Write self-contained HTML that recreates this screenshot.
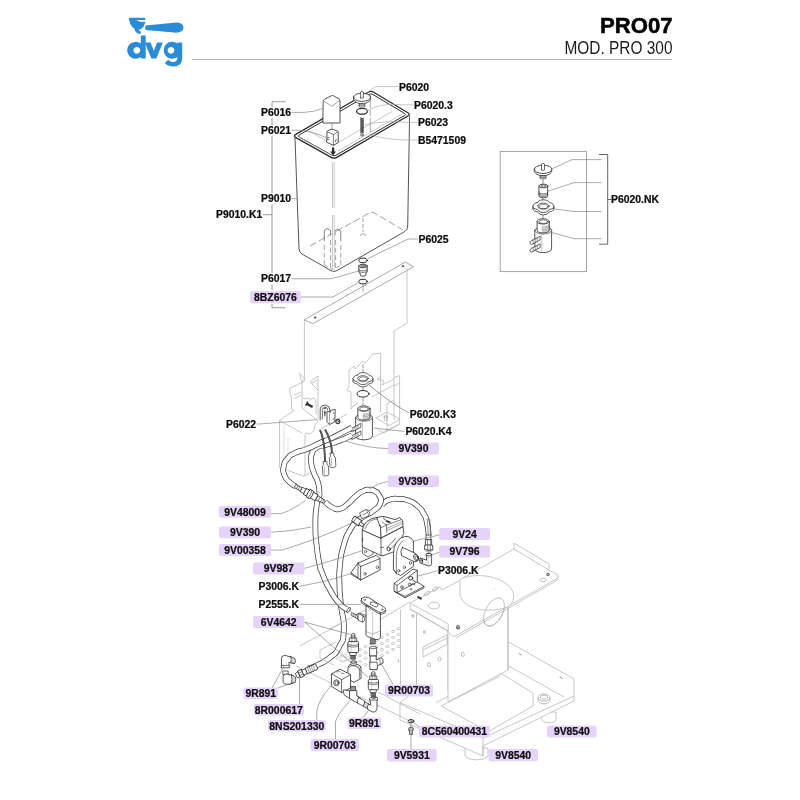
<!DOCTYPE html>
<html><head><meta charset="utf-8"><title>PRO07</title>
<style>
html,body{margin:0;padding:0;background:#fff;}
svg{display:block;font-family:"Liberation Sans",sans-serif;}
text{filter:url(#nf);}
.t{font-size:10.4px;font-weight:bold;fill:#0c0c0c;stroke:#0c0c0c;stroke-width:.22;}
.te{text-anchor:end;}
.tm{text-anchor:middle;}
.pb{fill:#e6d3f9;}
.k{fill:none;stroke:#2a2a2a;stroke-width:.8;stroke-linejoin:round;stroke-linecap:round;}
.kw{fill:#fff;stroke:#2a2a2a;stroke-width:.8;stroke-linejoin:round;stroke-linecap:round;}
.kf{fill:#2a2a2a;stroke:none;}
.g{fill:none;stroke:#b4b4b4;stroke-width:.75;stroke-linejoin:round;}
.gw{fill:#fff;stroke:#b4b4b4;stroke-width:.75;stroke-linejoin:round;}
.m{fill:none;stroke:#8a8a8a;stroke-width:.8;stroke-linejoin:round;}
.mw{fill:#fff;stroke:#8a8a8a;stroke-width:.8;stroke-linejoin:round;}
.l{fill:none;stroke:#7c7c7c;stroke-width:.65;}
.ll{fill:none;stroke:#a8a8a8;stroke-width:.65;}
.d{fill:none;stroke:#777;stroke-width:.7;stroke-dasharray:7 3;}
</style></head><body>
<svg width="800" height="800" viewBox="0 0 800 800">
<defs><filter id="nf" x="-5%" y="-20%" width="110%" height="140%" color-interpolation-filters="sRGB"><feOffset dx="0" dy="0"/></filter></defs>
<rect width="800" height="800" fill="#fff"/>
<g id="header">
<line x1="192" y1="59.5" x2="672" y2="59.5" stroke="#b5b5b5" stroke-width="1"/>
<text x="672.5" y="33.2" text-anchor="end" font-size="21.5" font-weight="bold" fill="#000" stroke="#000" stroke-width=".5" textLength="72.5" lengthAdjust="spacingAndGlyphs">PRO07</text>
<text x="672.5" y="54" text-anchor="end" font-size="17.6" fill="#1c1c1c" textLength="108" lengthAdjust="spacingAndGlyphs">MOD. PRO 300</text>
</g>
<g id="logo" fill="#2a8cd6">
<rect x="129" y="17.8" width="16.2" height="2.3" rx=".4"/>
<path d="M129.2,20 L136.2,20 Q141,23 145.3,21.6 Q144.8,28 138.6,30 Q130.6,29 129.2,20 Z"/>
<path d="M134.6,27 Q133.8,33 140.2,34.2 L141,31.6 Q138.2,31.2 138.8,28.4 Z"/>
<path d="M145.4,25.6 L174,22.7 Q183.4,22 183.4,27.6 Q183.4,33.2 174,32.6 L145.4,29.9 Z"/>
<path fill-rule="evenodd" d="M140.8,35.4 h4.9 v23.2 h-4.9 v-1.5 a8.5,8.5 0 1 1 0,-13.5 Z M136.8,46.9 a3.4,3.4 0 1 0 0.01,0 Z"/>
<path d="M144.8,42.4 h5.8 l3.2,8.6 l3.2,-8.6 h5.8 l-6.5,16.2 h-5 Z"/>
<path fill-rule="evenodd" d="M177.3,42.4 h4.9 v15.6 q0,8.5 -8.8,8.5 q-5.8,0 -8.6,-3.4 l3.4,-3.3 q2,2.2 5,2.2 q4.1,0 4.1,-4 v-1 a8.5,8.5 0 1 1 0,-13.5 Z M171,46.9 a3.4,3.4 0 1 0 0.01,0 Z"/>
</g>
<g id="ghost">
<path class="gw" d="M304.0,320.0 L405.5,262.0 L413.5,266.8 L313.0,323.6 Z" style="stroke:#8e8e8e"/>
<ellipse class="g" cx="315.2" cy="317.6" rx="0.9" ry="0.7" style="stroke:#444;fill:#666"/>
<ellipse class="g" cx="403.0" cy="266.3" rx="0.9" ry="0.7" style="stroke:#444;fill:#666"/>
<path class="g" d="M304.4,321 V381"/>
<path class="g" d="M407,268 V323 L394,331 V377.5 L399.6,375.6 V424 L384,433 L378,430"/>
<path class="g" d="M394,377.5 V386 L399.6,383"/>
<path class="g" d="M394,386 V420 M387,404 L394,400 M387,404 V430"/>
<path class="g" d="M376,418 L387,412 L399.6,419 M376,418 L389,425.6 L399.6,419.6"/>
<path class="m" d="M384.2,416.4 v3.2 a1.5,.8 0 0 0 3,0 v-3.2 a1.5,.8 0 0 0 -3,0 a1.5,.8 0 0 0 3,0" style="stroke-width:.6"/>
<path class="g" d="M351,409 V392 L346.5,390 L349,387 V370 L354,366 L355,369 L363,361 L365,363.4 L373,354 L380.6,353 V377 L377,379 L384,381 L382,385 L394,379"/>
<path class="g" d="M351,409 L353,406 L358,403"/>
<path class="g" d="M380.6,377 V412"/>
<path class="g" d="M372,397 L394,385"/>
<path class="g" d="M373,437.6 L399.6,424"/>
<path class="g" d="M304.3,381 L301,380 L299.5,373.5 L301.5,375 L304.3,379"/>
<path class="g" d="M304.3,381.5 L290,388 L289.5,391 L291.5,398 V409 L294,410.6 L279.5,420.5 V467.5 L303.8,476.2 L311,472.6"/>
<path class="g" d="M302,381 V408 L316,419 M294,395 L301.5,392 M294.5,398.4 L301.5,395"/>
<path class="g" d="M310,382 L318,376 V390 Z M311.5,383.5 L317,380"/>
<path class="g" d="M303,398 L305,399 L308,398 L310,399.5 L314,398 L315.5,399.5 L316,404 V414"/>
<path class="g" d="M318,390 V419"/>
<path class="g" d="M279.5,420.5 L302,433 M317,419 L318,421 L315,425 L314,431 L310,434 L306,433 L305,435 V476"/>
<path class="g" d="M284,425 V462 M288,438 V460" style="stroke:#d4d4d4"/>
<path class="g" d="M319,430 L347,414"/>
</g>
<g id="tank">
<path class="kw" d="M295,138 L299,249 Q299.3,252.5 302,254 L331,270.6 Q334,272.4 337,270.6 L405,231.4 Q407.6,229.6 407.7,226 L409.6,116 L371,92 Z"/>
<path class="d" d="M310,246 L370,212.6 Q372,211.6 374,212.8 L403,230"/>
<path class="m" d="M324.3,241 V230.4 L327,228.6 L330.5,230.4 V235.4" style="stroke:#666"/>
<path class="m" d="M335,235.4 V230.6 L337.6,229 L340.8,231 V241" style="stroke:#666"/>
<path class="m" d="M324.3,245 V265 M330.5,240 V268 M335.6,240 V268 M340.8,245 V265" style="stroke-dasharray:5 2.6"/>
<path class="m" d="M324.3,265 L333.4,270 L340.8,265" style="stroke-dasharray:4 3"/>
<path class="m" d="M333.3,162 V208 M333.3,215 V270.4" style="stroke:#b4b4b4;stroke-width:2.4"/>
<path class="m" d="M333.3,161 V271" style="stroke:#fff;stroke-width:1"/>
<path class="m" d="M363,218 L363,232" style="stroke-dasharray:4 2"/>
<path class="m" d="M360.6,236 A2.6,1.6 0 1 1 365.6,236"/>
<path class="kw" d="M295.8,137.6 Q293.0,136.0 295.8,134.4 L368.2,92.2 Q371.0,90.6 373.7,92.2 L407.9,112.8 Q410.6,114.4 407.8,116.0 L336.8,157.4 Q334.0,159.0 331.2,157.4 Z" style="stroke-width:1.25"/>
<path class="k" d="M299.3,137.1 Q297.4,136.0 299.3,134.9 L369.1,94.5 Q371.0,93.4 372.9,94.5 L404.5,113.3 Q406.4,114.4 404.5,115.5 L335.9,155.3 Q334.0,156.4 332.1,155.3 Z" style="stroke-width:1"/>
<path class="ll" d="M300,137.5 L333,156 M338,151 L404,113"/>
<path class="ll" d="M309,131 L334,145 L392,111.5"/>
<path class="ll" d="M370.3,94 L370.3,136" style="stroke-dasharray:14 2 6 2;stroke-width:1"/>
<path class="kw" d="M323.2,101.2 Q323.2,100 324.4,99.4 L331,95.9 Q332.4,95.2 333.8,95.9 L339,99 Q340,99.6 340,101 L340,123 L323.2,123 Z"/>
<path class="k" d="M323.6,100.8 L331.8,106.2 L339.8,100.4" style="stroke-width:.6;stroke:#666"/>
<path class="l" d="M332.0,123.0 L332.0,129.5"/>
<path class="kw" d="M327,132 Q327,131 328,130.6 L331,129.4 Q332,129 333,129.4 L337.4,131 Q338.2,131.4 338.2,132.4 L338.2,142.6 L333.4,145.4 L327,142.4 Z"/>
<path class="k" d="M327.2,131.8 L333.4,134.6 L338,131.8 M333.4,134.6 V145.4" style="stroke-width:.6"/>
<path class="k" d="M327.4,137.5 h1.6 M327.4,139.5 h1.6 M335.4,141.8 v-1.8 h1.4" style="stroke-width:.6"/>
<path class="kf" d="M332,147.6 h2.2 v3.8 h1.8 l-2.9,4 l-2.9,-4 h1.8 Z"/>
<path class="kw" d="M359.2,101 L359.2,107 L364.8,107 L364.8,101 Z" style="stroke-width:.6"/>
<path class="k" d="M359.2,104.4 h5.6 M359.2,105.6 h5.6" style="stroke-width:.5"/>
<path class="kw" d="M353.6,97.2 L353.6,99.6 Q354.4,102 358.6,103.4 L365.4,103.4 Q369.6,102 370.4,99.6 L370.4,97.2 Z"/>
<path class="kw" d="M353.6,97.2 Q354,93.6 362,93.2 Q370,93.6 370.4,97.2 Q370,101 362,101.4 Q354,101 353.6,97.2 Z"/>
<path class="kw" d="M360.6,97.8 L360.6,92 Q362,90.2 363.4,92 L363.4,97.8 Q362,98.8 360.6,97.8 Z" style="stroke-width:.7"/>
<ellipse class="k" cx="362.0" cy="111.3" rx="5.4" ry="2.9" style="stroke-width:1.2"/>
<path class="k" d="M360.8,118 L363.3,118.75 L360.8,119.50 L363.3,120.25 L360.8,121.00 L363.3,121.75 L360.8,122.50 L363.3,123.25 L360.8,124.00 L363.3,124.75 L360.8,125.50 L363.3,126.25 L360.8,127.00 L363.3,127.75 L360.8,128.50 L363.3,129.25 L360.8,130.00 L363.3,130.75 L360.8,131.50 L363.3,132.25 L360.8,133.00" style="stroke-width:.7;stroke:#222"/>
<path class="k" d="M360.8,118 V132.4 M363.3,118 V132.4" style="stroke-width:.6"/>
<ellipse class="k" cx="362.0" cy="135.0" rx="1.3" ry="1.2" style="stroke-width:.7"/>
<ellipse class="k" cx="363.0" cy="260.4" rx="4.2" ry="2.3" style="stroke-width:1"/>
<path class="kw" d="M358.8,266 L358.8,271.6 Q358.8,272.6 360.2,273 L360.2,275 A2.8,1.2 0 0 0 365.8,275 L365.8,273 Q367.2,272.6 367.2,271.6 L367.2,266 Z"/>
<ellipse class="kw" cx="363.0" cy="266.0" rx="4.2" ry="1.8"/>
<ellipse class="k" cx="363.0" cy="266.0" rx="2.4" ry="1.0"/>
<path class="k" d="M358.8,269 A4.2,1.8 0 0 0 367.2,269 M358.8,270.6 A4.2,1.8 0 0 0 367.2,270.6" style="stroke-width:.6"/>
<ellipse class="k" cx="363.0" cy="281.6" rx="4.2" ry="2.3" style="stroke-width:1"/>
<path class="l" d="M363.0,284.0 L363.0,292.0"/>
</g>
<g id="inset">
<rect x="500.2" y="151.4" width="86.3" height="120.2" fill="none" stroke="#9a9a9a" stroke-width=".9"/>
<path class="k" d="M599.4,154.5 H607.7 V244.2 H599.4 M607.7,199.5 H611" style="stroke:#555;stroke-width:.9"/>
<path class="k" d="M543,177 V186 M543,196 V201 M543,214 V221" style="stroke-width:.6;stroke:#444"/>
<g transform="translate(543.2,221.4)"><path class="kw" d="M-8.4,9 V27.6 A8.4,3.6 0 0 0 8.4,27.6 V9 A8.4,3.6 0 0 0 -8.4,9 Z"/><path class="kw" d="M-8.4,9 A8.4,3.6 0 0 1 8.4,9 A8.4,3.6 0 0 1 -8.4,9 Z" style="stroke-width:.6"/><path class="kw" d="M-6.1,0 V9 A6.1,2.6 0 0 0 6.1,9 V0 Z"/><path class="k" d="M-1,5.4 A6.1,2.6 0 0 0 6.1,3.0" style="stroke-width:.5;stroke:#555"/><path class="k" d="M-1,6.8 A6.1,2.6 0 0 0 6.1,4.4" style="stroke-width:.5;stroke:#555"/><path class="k" d="M-1,8.2 A6.1,2.6 0 0 0 6.1,5.8" style="stroke-width:.5;stroke:#555"/><path class="k" d="M-1,9.6 A6.1,2.6 0 0 0 6.1,7.2" style="stroke-width:.5;stroke:#555"/><path class="k" d="M-1,11.0 A6.1,2.6 0 0 0 6.1,8.6" style="stroke-width:.5;stroke:#555"/><ellipse class="kw" cx="0.0" cy="0.0" rx="6.1" ry="2.7"/><ellipse class="k" cx="0.0" cy="0.3" rx="4.3" ry="1.8" style="stroke-width:.6"/><path class="k" d="M-1.5,11.6 V29.8" style="stroke:#888;stroke-width:.5"/><path transform="translate(0,0.0)" class="kw" d="M-3.4,15 L-12.4,19.6 A1.4,1.9 0 0 0 -11.6,23.2 L-3.4,18.8 Z" style="stroke-width:.7"/><path transform="translate(0,0.0)" class="k" d="M-6,16.6 v3.3 M-8,17.7 v3.3 M-10,18.8 v3.3" style="stroke-width:.5"/><path transform="translate(0,7.6)" class="kw" d="M-3.4,15 L-12.4,19.6 A1.4,1.9 0 0 0 -11.6,23.2 L-3.4,18.8 Z" style="stroke-width:.7"/><path transform="translate(0,7.6)" class="k" d="M-6,16.6 v3.3 M-8,17.7 v3.3 M-10,18.8 v3.3" style="stroke-width:.5"/></g>
<g transform="translate(543.4,207.2) scale(1.00)"><g transform="translate(0,2.4)"><path class="kw" d="M-6,-4.8 Q-8,-4.4 -9.6,-3 Q-11.2,-1 -10,0.6 Q-8.6,2 -5.8,2.2 Q-5,3.8 -3,4.8 Q0,5.8 3,4.8 Q5,3.8 5.8,2.2 Q8.6,2 10,0.6 Q11.2,-1 9.6,-3 Q8,-4.4 6,-4.8 Q5,-6.4 3,-7 Q0,-7.8 -3,-7 Q-5,-6.4 -6,-4.8 Z" style="stroke:#333"/></g><path class="kw" d="M-10.5,-1 V1.4 M10.5,-1 V1.4" style="stroke:#333"/><path class="kw" d="M-6,-4.8 Q-8,-4.4 -9.6,-3 Q-11.2,-1 -10,0.6 Q-8.6,2 -5.8,2.2 Q-5,3.8 -3,4.8 Q0,5.8 3,4.8 Q5,3.8 5.8,2.2 Q8.6,2 10,0.6 Q11.2,-1 9.6,-3 Q8,-4.4 6,-4.8 Q5,-6.4 3,-7 Q0,-7.8 -3,-7 Q-5,-6.4 -6,-4.8 Z" style="stroke:#333"/><ellipse class="k" cx="0.0" cy="-1.2" rx="5.6" ry="2.9" style="stroke:#333"/><ellipse class="k" cx="0.0" cy="-0.7" rx="4.3" ry="2.1" style="stroke:#444;stroke-width:.6"/><path class="k" d="M-5,0.8 A5.4,2.6 0 0 0 5,0.8" style="stroke:#777;stroke-width:.5"/></g>
<g transform="translate(543.3,186.0)"><path class="kw" d="M-4.4,0 V10 A4.4,1.8 0 0 0 4.4,10 V0 Z"/><ellipse class="kw" cx="0.0" cy="0.0" rx="4.4" ry="1.8"/><ellipse class="k" cx="0.0" cy="0.0" rx="2.6" ry="1.0" style="stroke-width:.6"/><path class="k" d="M-4.4,6.0 A4.4,1.8 0 0 0 4.4,6.0" style="stroke-width:.6"/><path class="k" d="M-4.4,7.3 A4.4,1.8 0 0 0 4.4,7.3" style="stroke-width:.6"/><path class="k" d="M-4.4,8.6 A4.4,1.8 0 0 0 4.4,8.6" style="stroke-width:.6"/></g>
<g transform="translate(543.0,169.3) scale(1.00)"><path class="kw" d="M-2.9,4.6 L-2.9,9.4 L2.9,9.4 L2.9,4.6 Z" style="stroke-width:.6"/><path class="k" d="M-2.9,7 h5.8 M-2.9,8.2 h5.8" style="stroke-width:.5"/><path class="kw" d="M-8.7,0 L-8.7,2.2 Q-8,4.6 -3.6,6.2 L3.6,6.2 Q8,4.6 8.7,2.2 L8.7,0 Z"/><path class="kw" d="M-8.7,0 Q-8.3,-3.7 0,-4.1 Q8.3,-3.7 8.7,0 Q8.3,3.8 0,4.2 Q-8.3,3.8 -8.7,0 Z"/><path class="kw" d="M-1.5,0.6 L-1.5,-5.2 Q0,-6.8 1.5,-5.2 L1.5,0.6 Q0,1.6 -1.5,0.6 Z" style="stroke-width:.7"/></g>
<path class="l" d="M552,168.8 L572,159.6 H601.5"/>
<path class="l" d="M547.8,191.3 L574,182.6 H601.5"/>
<path class="l" d="M554.6,209 L574.6,211.5 H601.5"/>
<path class="l" d="M551.6,232.5 L574.6,238.7 H601.5"/>
</g>
<g id="mid">
<path class="k" d="M363,364.6 V371.6 M363,386.5 V390 M363,398 V405.6" style="stroke-width:.6;stroke:#555;stroke-dasharray:3 1.5"/>
<g transform="translate(364.0,408.6)"><path class="kw" d="M-8.4,9 V27.6 A8.4,3.6 0 0 0 8.4,27.6 V9 A8.4,3.6 0 0 0 -8.4,9 Z"/><path class="kw" d="M-8.4,9 A8.4,3.6 0 0 1 8.4,9 A8.4,3.6 0 0 1 -8.4,9 Z" style="stroke-width:.6"/><path class="kw" d="M-6.1,0 V9 A6.1,2.6 0 0 0 6.1,9 V0 Z"/><path class="k" d="M-1,5.4 A6.1,2.6 0 0 0 6.1,3.0" style="stroke-width:.5;stroke:#555"/><path class="k" d="M-1,6.8 A6.1,2.6 0 0 0 6.1,4.4" style="stroke-width:.5;stroke:#555"/><path class="k" d="M-1,8.2 A6.1,2.6 0 0 0 6.1,5.8" style="stroke-width:.5;stroke:#555"/><path class="k" d="M-1,9.6 A6.1,2.6 0 0 0 6.1,7.2" style="stroke-width:.5;stroke:#555"/><path class="k" d="M-1,11.0 A6.1,2.6 0 0 0 6.1,8.6" style="stroke-width:.5;stroke:#555"/><ellipse class="kw" cx="0.0" cy="0.0" rx="6.1" ry="2.7"/><ellipse class="k" cx="0.0" cy="0.3" rx="4.3" ry="1.8" style="stroke-width:.6"/><path class="k" d="M-1.5,11.6 V29.8" style="stroke:#888;stroke-width:.5"/><path transform="translate(0,0.0)" class="kw" d="M-3.4,15 L-12.4,19.6 A1.4,1.9 0 0 0 -11.6,23.2 L-3.4,18.8 Z" style="stroke-width:.7"/><path transform="translate(0,0.0)" class="k" d="M-6,16.6 v3.3 M-8,17.7 v3.3 M-10,18.8 v3.3" style="stroke-width:.5"/><path transform="translate(0,7.6)" class="kw" d="M-3.4,15 L-12.4,19.6 A1.4,1.9 0 0 0 -11.6,23.2 L-3.4,18.8 Z" style="stroke-width:.7"/><path transform="translate(0,7.6)" class="k" d="M-6,16.6 v3.3 M-8,17.7 v3.3 M-10,18.8 v3.3" style="stroke-width:.5"/></g>
<ellipse class="k" cx="363.0" cy="393.8" rx="6.0" ry="3.3" style="stroke-width:1"/>
<g transform="translate(363.0,379.6) scale(0.95)"><g transform="translate(0,2.4)"><path class="kw" d="M-6,-4.8 Q-8,-4.4 -9.6,-3 Q-11.2,-1 -10,0.6 Q-8.6,2 -5.8,2.2 Q-5,3.8 -3,4.8 Q0,5.8 3,4.8 Q5,3.8 5.8,2.2 Q8.6,2 10,0.6 Q11.2,-1 9.6,-3 Q8,-4.4 6,-4.8 Q5,-6.4 3,-7 Q0,-7.8 -3,-7 Q-5,-6.4 -6,-4.8 Z" style="stroke:#333"/></g><path class="kw" d="M-10.5,-1 V1.4 M10.5,-1 V1.4" style="stroke:#333"/><path class="kw" d="M-6,-4.8 Q-8,-4.4 -9.6,-3 Q-11.2,-1 -10,0.6 Q-8.6,2 -5.8,2.2 Q-5,3.8 -3,4.8 Q0,5.8 3,4.8 Q5,3.8 5.8,2.2 Q8.6,2 10,0.6 Q11.2,-1 9.6,-3 Q8,-4.4 6,-4.8 Q5,-6.4 3,-7 Q0,-7.8 -3,-7 Q-5,-6.4 -6,-4.8 Z" style="stroke:#333"/><ellipse class="k" cx="0.0" cy="-1.2" rx="5.6" ry="2.9" style="stroke:#333"/><ellipse class="k" cx="0.0" cy="-0.7" rx="4.3" ry="2.1" style="stroke:#444;stroke-width:.6"/><path class="k" d="M-5,0.8 A5.4,2.6 0 0 0 5,0.8" style="stroke:#777;stroke-width:.5"/></g>
<path class="k" d="M306.6,403.6 L312.6,407" style="stroke-width:2.4;stroke:#333;stroke-linecap:butt"/>
<path class="k" d="M306,405 L307.6,402.2" style="stroke-width:1.6;stroke:#333"/>
<path class="mw" d="M320.2,420.4 V409 Q320.4,405.2 324.4,405.2 L326.6,405.4 Q329.8,406 329.8,410 V414" style="stroke:#444;stroke-width:.9"/>
<path class="m" d="M322.4,419.4 V409.6 Q322.8,407 325.2,407 Q327.6,407.2 327.6,410" style="stroke:#444;stroke-width:.8"/>
<path class="m" d="M324.8,410.4 V416.4 M324.4,412.8 h1.8 M323.6,408.6 l2.6,-.6" style="stroke:#333;stroke-width:1"/>
<path class="mw" d="M327,411 L327,421.6 L329.6,424.6 L334.8,421.6 L335.2,409.2 L330.8,410.4 L330.6,412.4 Z" style="stroke:#444;stroke-width:.9"/>
<path class="m" d="M329.6,424.6 V413 M333.6,412 v2 M333.4,418 v2" style="stroke:#666;stroke-width:.6"/>
<ellipse class="k" cx="337.8" cy="421.6" rx="2.0" ry="2.2" style="stroke-width:1.1;stroke:#333"/>
<ellipse class="k" cx="337.8" cy="421.6" rx="0.7" ry="0.8" style="stroke-width:.5;stroke:#333"/>
</g>
<g id="frame">
<path class="gw" d="M465,748 v7.4 a11.5,4.4 0 0 0 23,0 v-7.4 Z"/>
<path class="gw" d="M542,712 v7.6 a7,3.2 0 0 0 14,0 v-7.6 Z"/>
<path class="gw" d="M507,641 L574,679 V701 L483,746 V756 L400,720 V702.6 L416.5,690 V614 L507,665 Z"/>
<path class="g" d="M507,665 L564,697 M574,696 L483,738 L400,702.6 M483,738 V756"/>
<path class="g" d="M507,641 V665"/>
<path class="g" d="M497,671 L507,665 M497,671 L533,693 V706 L486,733 M496,672 L436,702.6 M500,676 L441,706 L480,727"/>
<path class="g" d="M518.6,653.4 l3,1.7 M559.6,677 l3,1.7" style="stroke:#999;stroke-width:1"/>
<path class="gw" d="M538,697.6 v2.6 a6,3.6 0 0 0 12,0 v-2.6 Z" style="stroke:#aaa"/>
<ellipse class="gw" cx="544.0" cy="697.6" rx="6.0" ry="3.6" style="stroke:#aaa"/>
<ellipse class="g" cx="544.0" cy="697.2" rx="3.6" ry="2.1" style="stroke:#aaa"/>
<path class="gw" d="M410,609 L448,631 V690 L416.5,690 V613 Z" style="stroke:none"/>
<path class="g" d="M410,609 L448,631 V690"/>
<path class="gw" d="M448,631 L455,636 L508,606 V670 L448,702 Z"/>
<path class="g" d="M416.5,612.6 V690"/>
<ellipse class="g" cx="413.0" cy="616.0" rx="1.0" ry="1.4" style="stroke:#999"/>
<ellipse class="g" cx="424.5" cy="632.0" rx="0.9" ry="1.3" style="stroke:#999"/>
<path class="g" d="M423.0,647.0 L447.0,635.0 L447.0,644.6 L423.0,657.0 Z"/>
<path class="g" d="M423,650 L447,638"/>
<ellipse class="g" cx="429.0" cy="664.6" rx="1.5" ry="2.2" style="stroke:#aaa"/>
<ellipse class="g" cx="439.6" cy="659.0" rx="1.5" ry="2.2" style="stroke:#aaa"/>
<ellipse class="g" cx="462.8" cy="654.4" rx="1.5" ry="2.2" style="stroke:#aaa"/>
<path class="g" d="M398.5,659.6 v3" style="stroke:#999"/>
<ellipse class="g" cx="494" cy="612" rx="8.6" ry="15.4" transform="rotate(28 494 612)"/>
<path class="g" d="M508,608 V670"/>
<path class="gw" d="M410,603 L440,587 L441.6,590 L460,580.4 L463,578 L514,549 V543 L549,564 V570 L558,575 V578 L455.4,636 Q451.6,637.4 448.2,631.4 V624 Z"/>
<path class="g" d="M514,549 L549,570 M410,603 V609 L448,631 M558,578 L556,581 L456,638"/>
<path class="gw" d="M460,596 C464,606 476,611 492,610 C500,609.6 506,608 509.4,605.6 C516,600 515,590 506,583.6 C496,576 478,573 462.4,578 L460,580.4 Z"/>
<ellipse class="g" cx="494" cy="612" rx="8.6" ry="15.4" transform="rotate(28 494 612)" clip-path="url(#cylclip)"/>
<path class="g" d="M494.4,589.4 l.8,-.8" style="stroke:#999"/>
<ellipse class="g" cx="434.0" cy="605.6" rx="5.6" ry="3.4"/>
<ellipse class="g" cx="543.0" cy="580.0" rx="3.0" ry="1.8"/>
<ellipse class="g" cx="548.0" cy="574.4" rx="1.5" ry="1.2" style="stroke:#444;fill:#bbb"/>
<ellipse class="g" cx="458.0" cy="628.0" rx="1.5" ry="1.2" style="stroke:#444;fill:#bbb"/>
<path class="g" d="M456.6,628 v-1.8 a1.4,.9 0 0 1 2.8,0 v1.8" style="stroke:#555"/>
<ellipse class="g" cx="427" cy="593.4" rx="3.4" ry="1.4" transform="rotate(-30 427 593.4)"/>
<ellipse class="g" cx="435.4" cy="589" rx="3.4" ry="1.4" transform="rotate(-30 435.4 589)"/>
</g>
<g id="hoses">
<path d="M357.5,520.0 C355.0,523.3 354.6,521.7 350.0,530.0 C345.4,538.3 347.1,533.3 343.8,545.0 C340.4,556.7 341.4,551.7 340.0,565.0 C338.6,578.3 339.2,571.7 339.5,585.0 C339.8,598.3 339.6,590.0 341.0,605.0 C342.4,620.0 344.5,615.8 343.8,630.0 C343.0,644.2 343.3,638.3 338.8,647.5 C334.2,656.7 337.1,651.7 330.0,657.5 C322.9,663.3 324.8,661.3 317.5,665.0 C310.2,668.7 311.2,667.4 308.0,668.6" fill="none" stroke="#3a3a3a" stroke-width="5.75" stroke-linecap="butt"/><path d="M357.5,520.0 C355.0,523.3 354.6,521.7 350.0,530.0 C345.4,538.3 347.1,533.3 343.8,545.0 C340.4,556.7 341.4,551.7 340.0,565.0 C338.6,578.3 339.2,571.7 339.5,585.0 C339.8,598.3 339.6,590.0 341.0,605.0 C342.4,620.0 344.5,615.8 343.8,630.0 C343.0,644.2 343.3,638.3 338.8,647.5 C334.2,656.7 337.1,651.7 330.0,657.5 C322.9,663.3 324.8,661.3 317.5,665.0 C310.2,668.7 311.2,667.4 308.0,668.6" fill="none" stroke="#fff" stroke-width="4.25" stroke-linecap="butt"/>
<path d="M352.0,435.3 C348.0,437.1 347.3,437.8 340.0,440.6 C332.7,443.4 335.8,442.1 330.0,443.8 C324.2,445.4 327.1,444.2 322.5,445.6 C317.9,447.0 319.8,445.3 316.2,448.0 C312.7,450.7 313.6,448.9 311.9,453.8 C310.2,458.6 310.6,456.2 311.2,462.5 C311.9,468.8 311.5,465.8 313.8,472.5 C316.0,479.2 316.1,475.8 318.0,482.5 C319.9,489.2 319.1,487.7 319.4,492.5 C319.6,497.3 319.8,492.0 318.8,497.0 C317.8,502.0 317.5,497.8 316.4,507.5 C315.3,517.2 315.3,513.5 315.4,526.0 C315.5,538.5 315.3,532.4 316.6,545.0 C317.9,557.6 317.7,554.8 319.4,563.8 C321.1,572.8 318.4,563.6 321.8,572.0 C325.2,580.4 323.7,578.5 329.6,589.0 C335.5,599.5 333.1,596.4 339.4,603.4 C345.7,610.4 345.4,607.8 348.4,610.0" fill="none" stroke="#3a3a3a" stroke-width="5.75" stroke-linecap="butt"/><path d="M352.0,435.3 C348.0,437.1 347.3,437.8 340.0,440.6 C332.7,443.4 335.8,442.1 330.0,443.8 C324.2,445.4 327.1,444.2 322.5,445.6 C317.9,447.0 319.8,445.3 316.2,448.0 C312.7,450.7 313.6,448.9 311.9,453.8 C310.2,458.6 310.6,456.2 311.2,462.5 C311.9,468.8 311.5,465.8 313.8,472.5 C316.0,479.2 316.1,475.8 318.0,482.5 C319.9,489.2 319.1,487.7 319.4,492.5 C319.6,497.3 319.8,492.0 318.8,497.0 C317.8,502.0 317.5,497.8 316.4,507.5 C315.3,517.2 315.3,513.5 315.4,526.0 C315.5,538.5 315.3,532.4 316.6,545.0 C317.9,557.6 317.7,554.8 319.4,563.8 C321.1,572.8 318.4,563.6 321.8,572.0 C325.2,580.4 323.7,578.5 329.6,589.0 C335.5,599.5 333.1,596.4 339.4,603.4 C345.7,610.4 345.4,607.8 348.4,610.0" fill="none" stroke="#fff" stroke-width="4.25" stroke-linecap="butt"/>
<ellipse class="kw" cx="348.6" cy="610.1" rx="1.2" ry="2.9" transform="rotate(35 348.6 610.1)" style="stroke-width:.7"/>
<path d="M352.0,427.6 C348.0,429.7 347.3,430.0 340.0,433.8 C332.7,437.5 336.7,435.7 330.0,438.8 C323.3,441.8 327.5,439.7 320.0,443.0 C312.5,446.3 315.8,445.4 307.5,448.8 C299.2,452.1 301.7,449.7 295.0,453.0 C288.3,456.3 291.2,454.3 287.5,458.8 C283.8,463.2 284.8,460.8 283.8,466.2 C282.7,471.7 282.3,469.6 284.4,475.0 C286.5,480.4 286.1,478.7 290.0,482.5 C293.9,486.3 294.0,485.1 296.0,486.4" fill="none" stroke="#3a3a3a" stroke-width="5.75" stroke-linecap="butt"/><path d="M352.0,427.6 C348.0,429.7 347.3,430.0 340.0,433.8 C332.7,437.5 336.7,435.7 330.0,438.8 C323.3,441.8 327.5,439.7 320.0,443.0 C312.5,446.3 315.8,445.4 307.5,448.8 C299.2,452.1 301.7,449.7 295.0,453.0 C288.3,456.3 291.2,454.3 287.5,458.8 C283.8,463.2 284.8,460.8 283.8,466.2 C282.7,471.7 282.3,469.6 284.4,475.0 C286.5,480.4 286.1,478.7 290.0,482.5 C293.9,486.3 294.0,485.1 296.0,486.4" fill="none" stroke="#fff" stroke-width="4.25" stroke-linecap="butt"/>
<path d="M382.0,505.0 C383.3,503.7 383.0,503.1 386.0,501.2 C389.0,499.3 387.0,500.2 391.0,499.4 C395.0,498.6 392.3,498.5 398.0,498.8 C403.7,499.1 401.7,498.1 408.0,500.4 C414.3,502.7 411.8,501.2 417.0,505.6 C422.2,510.0 420.3,507.8 423.6,513.6 C426.9,519.4 425.3,515.5 427.0,523.0 C428.7,530.5 428.2,531.7 428.8,536.0" fill="none" stroke="#3a3a3a" stroke-width="5.75" stroke-linecap="butt"/><path d="M382.0,505.0 C383.3,503.7 383.0,503.1 386.0,501.2 C389.0,499.3 387.0,500.2 391.0,499.4 C395.0,498.6 392.3,498.5 398.0,498.8 C403.7,499.1 401.7,498.1 408.0,500.4 C414.3,502.7 411.8,501.2 417.0,505.6 C422.2,510.0 420.3,507.8 423.6,513.6 C426.9,519.4 425.3,515.5 427.0,523.0 C428.7,530.5 428.2,531.7 428.8,536.0" fill="none" stroke="#fff" stroke-width="4.25" stroke-linecap="butt"/>
<path d="M325.0,502.0 C327.5,503.8 327.5,505.2 332.5,507.5 C337.5,509.8 335.0,509.9 340.0,508.8 C345.0,507.6 342.2,508.4 347.5,504.2 C352.8,499.9 350.6,500.4 356.0,496.0 C361.4,491.6 359.3,493.1 363.6,491.0 C367.9,488.9 365.4,489.8 369.0,489.8 C372.6,489.8 371.0,489.1 374.4,491.0 C377.8,492.9 377.2,491.6 379.2,495.6 C381.2,499.6 382.1,498.1 380.4,503.0 C378.7,507.9 379.1,506.2 374.0,510.4 C368.9,514.6 370.5,512.3 365.0,515.6 C359.5,518.9 360.0,518.8 357.5,520.4" fill="none" stroke="#3a3a3a" stroke-width="5.75" stroke-linecap="butt"/><path d="M325.0,502.0 C327.5,503.8 327.5,505.2 332.5,507.5 C337.5,509.8 335.0,509.9 340.0,508.8 C345.0,507.6 342.2,508.4 347.5,504.2 C352.8,499.9 350.6,500.4 356.0,496.0 C361.4,491.6 359.3,493.1 363.6,491.0 C367.9,488.9 365.4,489.8 369.0,489.8 C372.6,489.8 371.0,489.1 374.4,491.0 C377.8,492.9 377.2,491.6 379.2,495.6 C381.2,499.6 382.1,498.1 380.4,503.0 C378.7,507.9 379.1,506.2 374.0,510.4 C368.9,514.6 370.5,512.3 365.0,515.6 C359.5,518.9 360.0,518.8 357.5,520.4" fill="none" stroke="#fff" stroke-width="4.25" stroke-linecap="butt"/>
<path d="M320.0,430.0 C320.8,432.5 321.0,430.8 322.5,437.5 C324.0,444.2 323.6,441.8 324.4,450.0 C325.2,458.2 324.8,458.0 325.0,462.0" fill="none" stroke="#2a2a2a" stroke-width="1.90" stroke-linecap="butt"/><path d="M320.0,430.0 C320.8,432.5 321.0,430.8 322.5,437.5 C324.0,444.2 323.6,441.8 324.4,450.0 C325.2,458.2 324.8,458.0 325.0,462.0" fill="none" stroke="#fff" stroke-width="0.30" stroke-linecap="butt"/>
<path d="M325.0,429.4 C326.2,432.1 326.7,432.0 328.8,437.5 C330.8,443.0 330.2,440.6 331.2,446.0 C332.3,451.4 331.7,451.1 331.9,453.6" fill="none" stroke="#2a2a2a" stroke-width="1.90" stroke-linecap="butt"/><path d="M325.0,429.4 C326.2,432.1 326.7,432.0 328.8,437.5 C330.8,443.0 330.2,440.6 331.2,446.0 C332.3,451.4 331.7,451.1 331.9,453.6" fill="none" stroke="#fff" stroke-width="0.30" stroke-linecap="butt"/>
<g transform="translate(325.0,461.6) rotate(-4)"><path class="kw" d="M-1.8,0 h3.6 v3.2 l1.2,1 v8.4 q0,1.2 -1.2,1.4 l-3,.4 q-1.8,0 -1.8,-1.6 v-8.6 l1.2,-1 Z" style="stroke-width:.7;stroke:#333"/><path class="k" d="M-1.2,5 v7.6" style="stroke-width:.5;stroke:#777"/></g>
<g transform="translate(332.0,453.2) rotate(-4)"><path class="kw" d="M-1.8,0 h3.6 v3.2 l1.2,1 v8.4 q0,1.2 -1.2,1.4 l-3,.4 q-1.8,0 -1.8,-1.6 v-8.6 l1.2,-1 Z" style="stroke-width:.7;stroke:#333"/><path class="k" d="M-1.2,5 v7.6" style="stroke-width:.5;stroke:#777"/></g>
<g transform="translate(295.4,486.2) rotate(28.6)"><path class="kw" d="M0,-1.7 L7,-1.9 L7,1.9 L0,1.7 Z" style="stroke-width:.7"/><path class="k" d="M2,-1.7 v3.4 M4,-1.8 v3.6" style="stroke-width:.5"/><path class="kw" d="M7,-2.5 H11 V2.5 H7 Z" style="stroke-width:.7"/><path class="kw" d="M11,-3.3 H24 Q25,0 24,3.3 H11 Q10,0 11,-3.3 Z" style="stroke-width:.8"/><path class="kw" d="M14.6,-4.3 H18.6 Q19.8,0 18.6,4.3 H14.6 Q13.4,0 14.6,-4.3 Z" style="stroke-width:.8"/><path class="k" d="M16.6,-4.3 Q17.8,0 16.6,4.3" style="stroke-width:.6"/><path class="kw" d="M24.6,-2.3 L29,-2 L33.4,-1.5 L33.4,1.5 L29,2 L24.6,2.3 Z" style="stroke-width:.7"/><path class="k" d="M27,-2.1 v4.2 M29.6,-1.9 v3.8 M31.6,-1.7 v3.4" style="stroke-width:.5"/></g>
<g transform="translate(356.8,521.0) rotate(35) scale(1.15)"><path class="kw" d="M-3.6,-2.6 Q-4.6,0 -3.6,2.6 L3.6,2.6 Q4.6,0 3.6,-2.6 Z" style="stroke-width:.8"/><path class="k" d="M-1.6,-2.6 Q-2.6,0 -1.6,2.6" style="stroke-width:.5"/><path class="kw" d="M3.4,-1.2 h3.4 v2.6 h-3.4 Z" style="stroke-width:.7"/></g>
</g>
<g id="pump">
<path class="kw" d="M351,572.6 L358,563 L376.4,555.2 L380,558.6 V570 L360.6,580 L351.6,574.6 Z"/>
<path class="k" d="M358,563 V577.6 L360.6,580 M358,577.6 L351.4,573 M360.6,566.4 L380,558.6 M360.6,566.4 V580 M358,563 L360.6,566.4" style="stroke-width:.7"/>
<ellipse class="k" cx="377.4" cy="567.4" rx="1.2" ry="1.4" style="stroke-width:.6"/>
<ellipse class="k" cx="365.0" cy="573.8" rx="1.2" ry="1.4" style="stroke-width:.6"/>
<path class="kw" d="M394.4,583.4 L413,569 L417.3,570.4 V582 L424,586.4 V587.8 L405,597.8 L394.4,591.4 Z"/>
<path class="k" d="M394.4,583.4 L397,585.4 L417.3,570.4 M397,585.4 V592.6 M397,592.6 L417.3,582 M397,592.6 L405,596.4 L424,586.4 M394.4,591.4 L397,592.6" style="stroke-width:.7"/>
<ellipse class="k" cx="410.8" cy="578.3" rx="2.0" ry="1.8" style="stroke-width:1;stroke:#333"/>
<ellipse class="k" cx="409.8" cy="584.4" rx="1.5" ry="1.3" style="stroke-width:.8;stroke:#333"/>
<ellipse class="k" cx="401.9" cy="587.2" rx="1.2" ry="1.5" style="stroke-width:.8;stroke:#333"/>
<ellipse class="k" cx="410.8" cy="589.2" rx="1.0" ry="0.7" style="stroke-width:.5"/>
<path class="k" d="M413,580.4 l2.4,1.4 M412.6,583.6 l2,1.2" style="stroke-width:.9;stroke:#333"/>
<path class="k" d="M417.4,596.6 L421.6,599" style="stroke-width:2.2;stroke:#444;stroke-linecap:butt"/>
<path class="kw" d="M362.6,546 V553.6 L368,557 L373,554 V549 Z" style="stroke-width:.7"/>
<ellipse class="k" cx="365.6" cy="551.6" rx="1.1" ry="1.3" style="stroke-width:.6"/>
<path class="kw" d="M362.6,529.6 L381,538 L403,526.6 L403.8,533.4 L394.4,551.6 L382,556 L362.6,547 Z"/>
<path class="k" d="M381,538 V555.6 M381,547.4 h2.4 M362.6,538 v3" style="stroke-width:.7"/>
<path class="kw" d="M362.4,529.8 Q363,525 367,521.4 Q371.6,517.6 377,517.4 L381,519 L381,538 Z" style="stroke-width:.8"/>
<path class="k" d="M365.4,528.4 Q366.6,523.6 371,520.6 Q374.6,518.6 378,519" style="stroke-width:.6"/>
<path class="kw" d="M377,517.4 L383.6,516.4 L395,519.6 L399.6,517.6 L402.6,520.4 L403,526.6 L381,538 L380.6,528 Z" style="stroke-width:.8"/>
<path class="k" d="M380.6,528 L386.4,525 L386.8,532.4 M386.4,525 L401.6,519.6 M386.4,525 L382,522 M383.6,516.4 L384,519.4 L391,522.4" style="stroke-width:.6"/>
<path class="kf" d="M385.4,521.6 l3.4,1.4 l2,-1 l-3.4,-1.4 Z"/>
<path class="kf" d="M378.6,525.8 l1.8,.8 l1.2,-.7 l-1.8,-.8 Z"/>
<path class="k" d="M386.8,528.4 L403,521.4 M386.8,530.4 L403,523.4 M382.6,537 L403,526.6" style="stroke-width:.5;stroke:#555"/>
<path class="k" d="M386.6,548 L395.6,538.4 M389,551 L399,540" style="stroke-width:.6"/>
<ellipse class="k" cx="388.6" cy="549.0" rx="1.6" ry="1.8" style="stroke-width:.8"/>
<path class="kw" d="M393.6,552 Q394,542.6 401,538 Q409,533.6 413.4,541 V566.4 L400.6,575.4 L396.4,573.4 L393.6,569.6 Z"/>
<path class="k" d="M396.4,573.4 V555 Q396.8,546 403,540.6 M396.4,573.4 L393.6,569.6" style="stroke-width:.6"/>
<ellipse class="k" cx="398.8" cy="570.8" rx="1.1" ry="1.4" style="stroke-width:.6"/>
<ellipse class="k" cx="404.4" cy="567.4" rx="1.1" ry="1.4" style="stroke-width:.6"/>
<ellipse class="k" cx="410.4" cy="563.0" rx="1.1" ry="1.4" style="stroke-width:.6"/>
<path class="kw" d="M402.4,547.4 L415.6,553.4 Q419.4,556.6 418,560 Q416.6,562.4 414,561.6 L401.6,555.6 Q399.8,551.4 402.4,547.4 Z" style="stroke-width:.8"/>
<ellipse class="k" cx="416.2" cy="557.6" rx="2.2" ry="3.6" transform="rotate(-25 416.2 557.6)" style="stroke-width:.8"/>
<ellipse class="k" cx="416.4" cy="557.8" rx="1.1" ry="2" transform="rotate(-25 416.4 557.8)" style="stroke-width:.5"/>
<path class="kw" d="M360,512.6 L366.6,509.4 L369.6,512 L368.6,516 L362,518.6 Z" style="stroke-width:.7"/>
<path class="k" d="M362.6,515 l5,-2.4 M366.6,509.4 l1,3.4" style="stroke-width:.5"/>
<path class="kw" d="M426.4,535 H430.8 V540 H426.4 Z" style="stroke-width:.7"/>
<path class="k" d="M427.2,519 Q428,527 428.2,535 M429.8,519 Q430.4,527 430.4,535" style="stroke-width:.6;stroke:#444"/>
<path class="kw" d="M425.8,539.6 H431.6 V545.4 H425.8 Z" style="stroke-width:.8"/>
<path class="kw" d="M425.2,545 H432.4 L433,549.6 Q429,551.8 424.8,549.6 Z" style="stroke-width:.8"/>
<path class="k" d="M427.6,539.6 V549.8 M430.4,539.6 V550" style="stroke-width:.5"/>
<ellipse class="k" cx="428.9" cy="550.4" rx="3.4" ry="1.4" style="stroke-width:.6;stroke:#777"/>
<path class="kw" d="M426.2,554.6 Q426.2,553 428.9,553 Q431.6,553 431.6,554.6 V563.6 Q431.6,566.2 428.6,566 L421.4,563.4 Q419.4,561 420.4,558 L426.2,560 Z" style="stroke-width:.8"/>
<ellipse class="k" cx="428.9" cy="554.6" rx="2.7" ry="1.2" style="stroke-width:.6"/>
<path class="k" d="M426.2,556.4 Q428.9,558 431.6,556.4 M428,554 V566" style="stroke-width:.4;stroke:#777"/>
<ellipse class="kw" cx="421" cy="560.8" rx="1.6" ry="2.8" transform="rotate(-20 421 560.8)" style="stroke-width:.7"/>
<ellipse class="k" cx="421.2" cy="560.8" rx=".8" ry="1.6" transform="rotate(-20 421.2 560.8)" style="stroke-width:.5"/>
</g>
<g id="valves">
<ellipse cx="398.5" cy="628.5" rx="1.6" ry="1" fill="none" stroke="#b0b0b0" stroke-width=".7"/>
<ellipse cx="398.5" cy="634.5" rx="1.6" ry="1" fill="none" stroke="#b0b0b0" stroke-width=".7"/>
<ellipse cx="398.5" cy="640.5" rx="1.6" ry="1" fill="none" stroke="#b0b0b0" stroke-width=".7"/>
<ellipse cx="398.5" cy="646.5" rx="1.6" ry="1" fill="none" stroke="#b0b0b0" stroke-width=".7"/>
<ellipse cx="393.0" cy="631.5" rx="1.6" ry="1" fill="none" stroke="#b0b0b0" stroke-width=".7"/>
<ellipse cx="393.0" cy="637.5" rx="1.6" ry="1" fill="none" stroke="#b0b0b0" stroke-width=".7"/>
<ellipse cx="393.0" cy="643.5" rx="1.6" ry="1" fill="none" stroke="#b0b0b0" stroke-width=".7"/>
<ellipse cx="393.0" cy="649.5" rx="1.6" ry="1" fill="none" stroke="#b0b0b0" stroke-width=".7"/>
<ellipse cx="387.5" cy="634.5" rx="1.6" ry="1" fill="none" stroke="#b0b0b0" stroke-width=".7"/>
<ellipse cx="387.5" cy="640.5" rx="1.6" ry="1" fill="none" stroke="#b0b0b0" stroke-width=".7"/>
<ellipse cx="387.5" cy="646.5" rx="1.6" ry="1" fill="none" stroke="#b0b0b0" stroke-width=".7"/>
<ellipse cx="387.5" cy="652.5" rx="1.6" ry="1" fill="none" stroke="#b0b0b0" stroke-width=".7"/>
<ellipse cx="382.0" cy="637.5" rx="1.6" ry="1" fill="none" stroke="#b0b0b0" stroke-width=".7"/>
<ellipse cx="382.0" cy="643.5" rx="1.6" ry="1" fill="none" stroke="#b0b0b0" stroke-width=".7"/>
<ellipse cx="382.0" cy="649.5" rx="1.6" ry="1" fill="none" stroke="#b0b0b0" stroke-width=".7"/>
<ellipse cx="382.0" cy="655.5" rx="1.6" ry="1" fill="none" stroke="#b0b0b0" stroke-width=".7"/>
<ellipse cx="376.5" cy="640.5" rx="1.6" ry="1" fill="none" stroke="#b0b0b0" stroke-width=".7"/>
<ellipse cx="376.5" cy="646.5" rx="1.6" ry="1" fill="none" stroke="#b0b0b0" stroke-width=".7"/>
<ellipse cx="376.5" cy="652.5" rx="1.6" ry="1" fill="none" stroke="#b0b0b0" stroke-width=".7"/>
<ellipse cx="376.5" cy="658.5" rx="1.6" ry="1" fill="none" stroke="#b0b0b0" stroke-width=".7"/>
<ellipse cx="371.0" cy="643.5" rx="1.6" ry="1" fill="none" stroke="#b0b0b0" stroke-width=".7"/>
<ellipse cx="371.0" cy="649.5" rx="1.6" ry="1" fill="none" stroke="#b0b0b0" stroke-width=".7"/>
<ellipse cx="371.0" cy="655.5" rx="1.6" ry="1" fill="none" stroke="#b0b0b0" stroke-width=".7"/>
<ellipse cx="371.0" cy="661.5" rx="1.6" ry="1" fill="none" stroke="#b0b0b0" stroke-width=".7"/>
<ellipse cx="365.5" cy="646.5" rx="1.6" ry="1" fill="none" stroke="#b0b0b0" stroke-width=".7"/>
<ellipse cx="365.5" cy="652.5" rx="1.6" ry="1" fill="none" stroke="#b0b0b0" stroke-width=".7"/>
<ellipse cx="365.5" cy="658.5" rx="1.6" ry="1" fill="none" stroke="#b0b0b0" stroke-width=".7"/>
<ellipse cx="365.5" cy="664.5" rx="1.6" ry="1" fill="none" stroke="#b0b0b0" stroke-width=".7"/>
<ellipse cx="360.0" cy="649.5" rx="1.6" ry="1" fill="none" stroke="#b0b0b0" stroke-width=".7"/>
<ellipse cx="360.0" cy="655.5" rx="1.6" ry="1" fill="none" stroke="#b0b0b0" stroke-width=".7"/>
<ellipse cx="360.0" cy="661.5" rx="1.6" ry="1" fill="none" stroke="#b0b0b0" stroke-width=".7"/>
<ellipse cx="360.0" cy="667.5" rx="1.6" ry="1" fill="none" stroke="#b0b0b0" stroke-width=".7"/>
<path class="g" d="M400.5,609.5 V695 M379.5,620 L409.5,602 M330,629 L366,609.5"/>
<path class="g" d="M296,666 L408,720 M378,692 L420,714 M320,650 L336,642 M320,650 V658 L334,665 M300,646 L340,624"/>
<path class="g" d="M336,658.6 l7.6,-4.4 l7.4,4 l-7.6,4.4 Z M340.2,658.6 a3.4,2 0 1 0 6.8,0 a3.4,2 0 1 0 -6.8,0" style="stroke:#c4c4c4"/>
<path class="kw" d="M366,615.4 L359.6,613 L359.6,614.6 L366,617 Z" style="stroke-width:.6"/>
<path class="kw" d="M358.4,613.6 L362.6,615.4 L364.6,618.4 L364.6,620.6 L362.6,622.2 L358.4,620.4 L356.8,617.6 L356.8,615.2 Z" style="stroke-width:.7"/>
<path class="k" d="M358.4,613.6 V620.4 M362.6,615.4 V622.2" style="stroke-width:.5"/>
<path class="kw" d="M357,615.4 L351.6,612.4 Q350.6,613.6 351.4,615.4 L357,618.4 Z" style="stroke-width:.7"/>
<path class="k" d="M353.4,613.4 v3 M355.2,614.4 v3" style="stroke-width:.5"/>
<path class="kw" d="M366,606 V634.4 Q366,636 367.6,636.6 L376,639.6 Q378,640 379.6,638.6 L380.4,637.6 V610 Z"/>
<path class="k" d="M372.6,612 V638.2" style="stroke-width:.5;stroke:#999"/>
<path class="k" d="M366,631.6 L372.6,634 L380.4,631" style="stroke-width:.5;stroke:#777"/>
<path class="kw" d="M361.6,598.4 Q360.4,600.6 362.4,602 L378.6,612 Q381.6,613.4 384.6,611.4 Q386.6,609.4 384.6,607.6 L368.4,597.4 Q364.6,595.8 361.6,598.4 Z"/>
<path class="k" d="M361.2,600.4 V602 Q361.6,603.4 363,604 L378.8,613.6 Q381.6,615 384.6,613.2 Q385.8,612 385.8,610.4" style="stroke-width:.7"/>
<path class="k" d="M370.6,602.6 Q369.6,604 371.4,605 L375,606.8 Q377,607.2 377.8,605.8 Q378.2,604.6 376.6,603.6 L373.4,602 Q371.6,601.6 370.6,602.6 Z" style="stroke-width:.7"/>
<ellipse class="k" cx="364.6" cy="599.8" rx="0.9" ry="0.6" style="stroke-width:.5"/>
<ellipse class="k" cx="382.2" cy="609.6" rx="0.9" ry="0.6" style="stroke-width:.5"/>
<path class="kw" d="M370.6,639 V644 H375.2 V640 Z" style="stroke-width:.7;fill:#888"/>
<path class="kw" d="M370,647.6 H376.6 V656 H370 Z" style="stroke-width:.7"/>
<ellipse class="kw" cx="373.3" cy="647.6" rx="3.3" ry="1.2" style="stroke-width:.7"/>
<path class="kw" d="M370.6,656 H376.2 V660 L381.4,657.6 Q383.4,659 383.2,663 L377,666 V669.6 H370.6 Z" style="stroke-width:.8"/>
<path class="k" d="M379.2,658.6 Q380.8,660.6 380.2,664.4 M370.6,664 H376.6" style="stroke-width:.5"/>
<path class="kw" d="M369.8,662.6 Q369.6,669 370.6,669.6 H377 Q378,666 377,662.6 Z" style="stroke-width:.7"/>
<g transform="translate(353.2,633.4) scale(1.03)"><path class="kw" d="M-1.6,0.6 Q0,-0.6 1.6,0.6 V4.6 H-1.6 Z" style="stroke-width:.7"/><path class="k" d="M-1.6,2 h3.2 M-1.6,3.2 h3.2" style="stroke-width:.4"/><path class="kw" d="M-3.4,4.4 H3.4 V8.4 H-3.4 Z" style="stroke-width:.7"/><path class="k" d="M-1.2,4.4 V8.4 M1.6,4.4 V8.4" style="stroke-width:.5"/><path class="kw" d="M-5.2,9 Q-5.2,8 -4,8 H4 Q5.2,8 5.2,9 V17.4 Q5.2,18.6 4,18.6 H-4 Q-5.2,18.6 -5.2,17.4 Z"/><path class="k" d="M-5.2,11 Q0,12.6 5.2,11 M-5.2,12.6 Q0,14.2 5.2,12.6" style="stroke-width:.6"/><path class="k" d="M-2,8.2 V18.4" style="stroke-width:.4;stroke:#888"/><path class="kw" d="M-3.2,18.6 H3.2 L2.6,21.6 H-2.6 Z" style="stroke-width:.7"/><path class="kw" d="M-2,21.6 H2 V25 H-2 Z" style="stroke-width:.7;fill:#777"/></g>
<g transform="translate(373.4,671.6) scale(0.98)"><path class="kw" d="M-1.6,0.6 Q0,-0.6 1.6,0.6 V4.6 H-1.6 Z" style="stroke-width:.7"/><path class="k" d="M-1.6,2 h3.2 M-1.6,3.2 h3.2" style="stroke-width:.4"/><path class="kw" d="M-3.4,4.4 H3.4 V8.4 H-3.4 Z" style="stroke-width:.7"/><path class="k" d="M-1.2,4.4 V8.4 M1.6,4.4 V8.4" style="stroke-width:.5"/><path class="kw" d="M-5.2,9 Q-5.2,8 -4,8 H4 Q5.2,8 5.2,9 V17.4 Q5.2,18.6 4,18.6 H-4 Q-5.2,18.6 -5.2,17.4 Z"/><path class="k" d="M-5.2,11 Q0,12.6 5.2,11 M-5.2,12.6 Q0,14.2 5.2,12.6" style="stroke-width:.6"/><path class="k" d="M-2,8.2 V18.4" style="stroke-width:.4;stroke:#888"/><path class="kw" d="M-3.2,18.6 H3.2 L2.6,21.6 H-2.6 Z" style="stroke-width:.7"/><path class="kw" d="M-2,21.6 H2 V25 H-2 Z" style="stroke-width:.7;fill:#777"/></g>
<path class="kw" d="M348,668 Q348,664.6 351.6,664 L357.4,664.4 Q361,665 361,668.6 V678.4 L354,682.4 L348,679 Z"/>
<path class="k" d="M349.6,667.6 Q349.6,666 352,665.6 L356.6,666 Q359.4,666.6 359.4,669 M359.4,669 V678" style="stroke-width:.6"/>
<ellipse class="k" cx="353.6" cy="664.2" rx="2.6" ry="1.4" style="stroke-width:.7"/>
<path class="kw" d="M351,662 V664.2 A2.6,1.4 0 0 0 356.2,664.2 V662 Z" style="stroke-width:.6"/>
<ellipse class="kw" cx="353.6" cy="662.0" rx="2.6" ry="1.4" style="stroke-width:.6;fill:#bbb"/>
<path class="kw" d="M331.8,673.8 L340,669.2 L350.6,674.6 L350.6,688 L341.6,692.6 L331.8,686.6 Z"/>
<path class="k" d="M331.8,673.8 L341.6,679.8 L350.6,674.6 M341.6,679.8 V692.6" style="stroke-width:.7"/>
<path class="k" d="M337,672.2 l1.6,-1 l1.4,.8 M341,674 q1.6,-2.4 3.2,-.2" style="stroke-width:.6"/>
<ellipse class="k" cx="336.4" cy="682.8" rx="2.7" ry="3.0" style="stroke-width:.8"/>
<ellipse class="k" cx="336.6" cy="682.8" rx="1.5" ry="1.8" style="stroke-width:.6"/>
<path class="kw" d="M351,686.6 H355.6 V691.6 H351 Z" style="stroke-width:.7;fill:#999"/>
<path class="kw" d="M343.6,690 Q342.6,693 344.6,695.4 L350.6,698.8 L350.2,691.4 Z" style="stroke-width:.7"/>
<path class="kw" d="M349.8,690.6 H356.8 V696 L360.6,698.2 L358,703.2 L349.8,698.6 Z" style="stroke-width:.8"/>
<path class="kw" d="M358.6,697.6 L364.6,701 Q365.4,704 363.2,706.2 L357.4,703 Q357,699.6 358.6,697.6 Z" style="stroke-width:.7"/>
<path class="kw" d="M364.6,701.6 L369,704 L367.4,708.4 L363,706.2 Q364.8,704 364.6,701.6 Z" style="stroke-width:.7;fill:#ddd"/>
<path class="kw" d="M370.4,698.6 H377 V707.6 Q377,712.4 372.4,712 L367.6,709.4 Q366.6,706.4 368.6,704.2 L370.4,705 Z" style="stroke-width:.8"/>
<path class="kw" d="M369.8,698 Q369.8,696.6 373.7,696.6 Q377.6,696.6 377.6,698 V700 H369.8 Z" style="stroke-width:.7"/>
<ellipse class="kw" cx="373.7" cy="697.4" rx="2.4" ry="1.0" style="stroke-width:.6;fill:#888"/>
<g transform="translate(281.4,655.4)"><path class="kw" d="M0,3 Q0,0 3.4,0 L9,1.4 L12.6,3.4 Q13.6,6 12.6,8 L7.6,7 V11.6 H0.6 Z" style="stroke-width:.8"/><path class="kw" d="M9.4,1.2 L13.4,3 Q14.6,5.6 13.4,8.2 L9.4,7.2 Q10.4,4 9.4,1.2 Z" style="stroke-width:.7;fill:#ddd"/><path class="kw" d="M0.2,10 H8 V12.4 H0.2 Z" style="stroke-width:.7"/></g>
<path class="kw" d="M283.2,671 h5 v3.4 h-5 Z" style="stroke-width:.7"/>
<path class="kw" d="M283,676.6 Q283,674 286.4,674 L291,675 L294.6,677 Q295.6,679.6 294.6,682 L290,684.4 L284.6,684 Q283,683 283,681 Z" style="stroke-width:.8"/>
<path class="kw" d="M291.4,674.8 L295.2,676.8 Q296.4,679.6 295.2,682.4 L291.4,683.6 Q292.6,679 291.4,674.8 Z" style="stroke-width:.7;fill:#ddd"/>
<g transform="translate(296.6,675.4) rotate(-24)"><path class="kw" d="M0,-2.4 L3,-2.8 V2.8 L0,2.4 Z" style="stroke-width:.7"/><path class="kw" d="M3,-3.6 H7 V3.6 H3 Z" style="stroke-width:.8"/><path class="k" d="M3,-1.2 H7 M3,1.4 H7" style="stroke-width:.5"/><path class="kw" d="M7,-2.6 H11 V2.6 H7 Z" style="stroke-width:.7"/><path class="kw" d="M11,-3 H22 V3 H11 Z" style="stroke-width:.7"/><path class="k" d="M13,-3 V3 M15,-3 V3 M17,-3 V3 M19,-3 V3" style="stroke-width:.4"/></g>
<ellipse class="k" cx="411.0" cy="721.2" rx="3.0" ry="1.7" style="stroke-width:1;stroke:#333"/>
<ellipse class="k" cx="411.0" cy="721.2" rx="1.1" ry="0.6" style="stroke-width:.5;stroke:#333"/>
<path class="kw" d="M408.8,728.4 Q408.8,727 411,727 Q413.2,727 413.2,728.4 V730.4 H412.4 V734.6 H409.6 V730.4 H408.8 Z" style="stroke-width:.7;fill:#bbb"/>
<path class="l" d="M411.0,723.4 L411.0,727.0"/>
</g>
<g id="leaders">
<path class="l" d="M285.5,101.7 H272 V107 M272,118 V125 M272,136 V193 M272,204.5 V273 M272,285 V290 M272,304 V307.7 H285" style="stroke:#808080;stroke-width:.8"/>
<path class="l" d="M262.6,214.7 L272.0,214.7" style="stroke:#808080;stroke-width:.8"/>
<path class="l" d="M291.5,112.4 H304 Q314,112 323,108.4"/>
<path class="l" d="M291.5,130.3 H300 Q312,131 327.4,138.2"/>
<path class="l" d="M291.5,198.7 H297.4"/>
<path class="ll" d="M398.6,86.6 H375.4 L367,92.6"/>
<path class="ll" d="M413.4,104.8 H402 Q380,102.6 367.2,110.8"/>
<path class="ll" d="M417.4,122.4 H406 Q384,120 364,125"/>
<path class="ll" d="M417.4,140 H406 Q386,139.6 371,135"/>
<path class="l" d="M417.6,239 H408 L367.6,258.8"/>
<path class="l" d="M291.5,278.8 H331 L358.6,271"/>
<path class="l" d="M301,297 H333 L358.8,282.4"/>
<path class="l" d="M256.6,424.2 L317,419.6"/>
<path class="l" d="M409,413 Q392,404 369,385" style="stroke:#666"/>
<path class="l" d="M404.6,431.4 L373.4,428" style="stroke:#777"/>
<path class="l" d="M388,448.6 Q366,448 346,441"/>
<path class="l" d="M388,481.4 Q378,483 369,489.4"/>
<path class="l" d="M271,513.6 H281 Q293,510 306,500"/>
<path class="l" d="M271,532.2 Q292,531.6 311,527"/>
<path class="l" d="M271,550 H282 Q316,540 351,523.4"/>
<path class="l" d="M304.4,568.4 Q336,560 363,550.4"/>
<path class="l" d="M299.6,586.4 Q326,582 352,573.4"/>
<path class="l" d="M299.6,604.4 H361"/>
<path class="l" d="M304.4,622 L350,634.4 M304.4,622 L368,677"/>
<path class="l" d="M439,535 L414,541"/>
<path class="l" d="M439,552.4 L431.6,555"/>
<path class="l" d="M437.6,570.8 L418,576"/>
<path class="l" d="M272,688 L284,666 M278,688 L294,682"/>
<path class="l" d="M299.5,677.5 V704"/>
<path class="l" d="M331.8,685 Q318,700 316.8,712 V720"/>
<path class="l" d="M350.5,700 Q336,716 335.5,722 V739"/>
<path class="l" d="M368.5,710.5 L363.4,717.4"/>
<path class="l" d="M380.6,662.6 L393,684.4"/>
<path class="l" d="M413.6,722.6 L420.4,728"/>
<path class="l" d="M411,735 V749"/>
</g>
<g id="labels">
<rect class="pb" x="250.0" y="291.0" width="50.8" height="12.2" rx="2"/>
<text class="t tm" x="275.4" y="300.9">8BZ6076</text>
<rect class="pb" x="387.9" y="442.5" width="51.1" height="12.1" rx="2"/>
<text class="t tm" x="413.4" y="452.3">9V390</text>
<rect class="pb" x="387.9" y="475.4" width="51.1" height="11.7" rx="2"/>
<text class="t tm" x="413.4" y="485.0">9V390</text>
<rect class="pb" x="219.0" y="506.0" width="52.0" height="11.8" rx="2"/>
<text class="t tm" x="245.0" y="515.6">9V48009</text>
<rect class="pb" x="219.0" y="526.4" width="52.0" height="11.8" rx="2"/>
<text class="t tm" x="245.0" y="536.0">9V390</text>
<rect class="pb" x="219.0" y="544.0" width="52.0" height="12.0" rx="2"/>
<text class="t tm" x="245.0" y="553.8">9V00358</text>
<rect class="pb" x="253.0" y="562.4" width="51.4" height="12.0" rx="2"/>
<text class="t tm" x="278.7" y="572.1">9V987</text>
<rect class="pb" x="253.0" y="616.0" width="51.4" height="12.0" rx="2"/>
<text class="t tm" x="278.7" y="625.8">6V4642</text>
<rect class="pb" x="439.1" y="528.1" width="50.9" height="11.9" rx="2"/>
<text class="t tm" x="464.6" y="537.8">9V24</text>
<rect class="pb" x="439.1" y="545.6" width="50.9" height="11.9" rx="2"/>
<text class="t tm" x="464.6" y="555.3">9V796</text>
<rect class="pb" x="243.6" y="687.6" width="34.4" height="11.4" rx="2"/>
<text class="t tm" x="260.8" y="697.0">9R891</text>
<rect class="pb" x="253.6" y="704.0" width="50.4" height="11.4" rx="2"/>
<text class="t tm" x="278.8" y="713.5">8R000617</text>
<rect class="pb" x="268.0" y="720.0" width="57.6" height="11.6" rx="2"/>
<text class="t tm" x="296.8" y="729.5">8NS201330</text>
<rect class="pb" x="310.6" y="739.0" width="48.4" height="12.0" rx="2"/>
<text class="t tm" x="334.8" y="748.8">9R00703</text>
<rect class="pb" x="347.6" y="717.4" width="33.4" height="11.6" rx="2"/>
<text class="t tm" x="364.3" y="727.0">9R891</text>
<rect class="pb" x="385.0" y="684.4" width="48.0" height="12.0" rx="2"/>
<text class="t tm" x="409.0" y="694.1">9R00703</text>
<rect class="pb" x="419.0" y="725.5" width="71.0" height="12.0" rx="2"/>
<text class="t tm" x="454.5" y="735.2">8C560400431</text>
<rect class="pb" x="387.0" y="749.0" width="49.6" height="12.5" rx="2"/>
<text class="t tm" x="411.8" y="759.0">9V5931</text>
<rect class="pb" x="547.0" y="725.5" width="49.5" height="12.0" rx="2"/>
<text class="t tm" x="571.8" y="735.2">9V8540</text>
<rect class="pb" x="488.5" y="749.0" width="49.5" height="12.2" rx="2"/>
<text class="t tm" x="513.2" y="758.9">9V8540</text>
<text class="t te" x="291.0" y="116.0">P6016</text>
<text class="t te" x="291.0" y="133.9">P6021</text>
<text class="t te" x="291.0" y="202.4">P9010</text>
<text class="t te" x="262.2" y="218.4">P9010.K1</text>
<text class="t te" x="291.0" y="282.4">P6017</text>
<text class="t" x="399.0" y="90.8">P6020</text>
<text class="t" x="414.0" y="108.8">P6020.3</text>
<text class="t" x="418.0" y="126.2">P6023</text>
<text class="t" x="418.0" y="143.8">B5471509</text>
<text class="t" x="418.5" y="242.8">P6025</text>
<text class="t" x="611.0" y="203.2">P6020.NK</text>
<text class="t te" x="256.0" y="427.8">P6022</text>
<text class="t" x="409.8" y="417.9">P6020.K3</text>
<text class="t" x="405.4" y="435.4">P6020.K4</text>
<text class="t te" x="299.0" y="589.8">P3006.K</text>
<text class="t te" x="299.0" y="608.1">P2555.K</text>
<text class="t" x="438.1" y="574.4">P3006.K</text>
</g>
</svg>
</body></html>
